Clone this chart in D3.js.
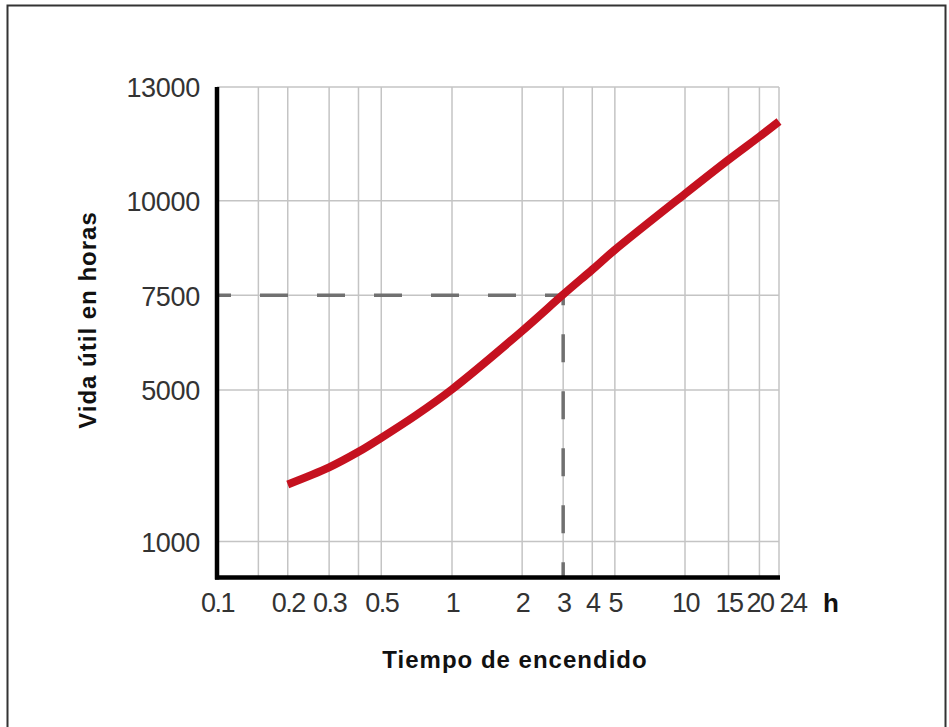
<!DOCTYPE html>
<html>
<head>
<meta charset="utf-8">
<script src="https://cdn.jsdelivr.net/npm/d3@7"></script>
<style>
  body { margin: 0; background: #fff; }
  svg { display: block; }
</style>
</head>
<body>
<div id="chart"></div>
<script>
// data
var hours = [0.2, 0.3, 0.4, 0.5, 0.7, 1, 2, 3, 4, 5, 10, 15, 20, 24];
var lifeHours = [2510, 2960, 3370, 3740, 4330, 5020, 6560, 7520, 8180, 8700, 10180, 11080, 11690, 12090];

var xTickLabels = [0.1, 0.2, 0.3, 0.5, 1, 2, 3, 4, 5, 10, 15, 20, 24];
var xGridValues = [0.15, 0.2, 0.3, 0.4, 0.5, 1, 2, 3, 4, 5, 10, 15, 20, 24];
var yTickLabels = [1000, 5000, 7500, 10000, 13000];

var markHours = 3;
var markLife = 7500;

var width = 949;
var height = 727;
var plotLeft = 217, plotRight = 779, plotTop = 87, plotBottom = 577.5;

var svg = d3.select("#chart")
  .append("svg")
  .attr("width", width)
  .attr("height", height);

// frame
svg.append("rect")
  .attr("x", 7.5)
  .attr("y", 5.5)
  .attr("width", 938)
  .attr("height", 740)
  .attr("fill", "none")
  .attr("stroke", "#333")
  .attr("stroke-width", 2);

// scales (log x, decades a bit uneven in the print)
var x = d3.scaleLog()
  .domain([0.1, 1, 10, 24])
  .range([plotLeft, 452, 685, plotRight]);

var y = d3.scaleLinear()
  .domain([0, 13000])
  .range([579.5, plotTop]);

// grid
svg.append("g")
  .selectAll("line")
  .data(xGridValues)
  .enter()
  .append("line")
  .attr("x1", d => x(d))
  .attr("x2", d => x(d))
  .attr("y1", plotTop)
  .attr("y2", plotBottom)
  .attr("stroke", "#c4c4c4")
  .attr("stroke-width", 1.5);

svg.append("g")
  .selectAll("line")
  .data(yTickLabels)
  .enter()
  .append("line")
  .attr("x1", plotLeft)
  .attr("x2", plotRight)
  .attr("y1", d => y(d))
  .attr("y2", d => y(d))
  .attr("stroke", "#c4c4c4")
  .attr("stroke-width", 1.5);

// dashed reference line
svg.append("path")
  .attr("d", "M" + x(0.1) + "," + y(markLife) +
             "H" + x(markHours) +
             "V" + plotBottom)
  .attr("fill", "none")
  .attr("stroke", "#707070")
  .attr("stroke-width", 3.5)
  .attr("stroke-dasharray", "28,29")
  .attr("stroke-dashoffset", 14);

// curve
var line = d3.line()
  .x(d => x(d[0]))
  .y(d => y(d[1]))
  .curve(d3.curveCatmullRom.alpha(0.5));

svg.append("path")
  .datum(hours.map((h, i) => [h, lifeHours[i]]))
  .attr("d", line)
  .attr("fill", "none")
  .attr("stroke", "#c5111f")
  .attr("stroke-width", 8);

// axes
var xAxis = d3.axisBottom(x)
  .tickValues(xTickLabels)
  .tickFormat(d => String(d))
  .tickSize(0)
  .tickSizeOuter(0);

var yAxis = d3.axisLeft(y)
  .tickValues(yTickLabels)
  .tickFormat(d => String(d))
  .tickSize(0)
  .tickSizeOuter(0);

var gx = svg.append("g")
  .attr("transform", "translate(0," + plotBottom + ")")
  .call(xAxis);

gx.select(".domain")
  .attr("d", "M" + (plotLeft - 2) + ",0H" + (plotRight + 1))
  .attr("stroke", "#000")
  .attr("stroke-width", 4.5);

gx.selectAll(".tick text")
  .attr("y", 0)
  .attr("dy", 34.5)
  .attr("fill", "#333")
  .style("font-family", "'Liberation Sans', Arial, sans-serif")
  .style("font-size", "27px")
  .style("letter-spacing", "-1.5px")
  .attr("text-anchor", (d, i) => i === xTickLabels.length - 1 ? "start" : "middle");

var gy = svg.append("g")
  .attr("transform", "translate(" + plotLeft + ",0)")
  .call(yAxis);

gy.select(".domain")
  .attr("d", "M0," + plotTop + "V" + (plotBottom + 2))
  .attr("stroke", "#000")
  .attr("stroke-width", 4.5);

gy.selectAll(".tick text")
  .attr("x", -17)
  .attr("dy", "0.36em")
  .attr("fill", "#333")
  .style("font-family", "'Liberation Sans', Arial, sans-serif")
  .style("font-size", "27px")
  .style("letter-spacing", "-0.3px");

// unit
svg.append("text")
  .attr("x", 823)
  .attr("y", 612)
  .text("h")
  .style("font-family", "'Liberation Sans', Arial, sans-serif")
  .style("font-size", "26px")
  .style("font-weight", "bold")
  .style("fill", "#111");

// axis titles
svg.append("text")
  .attr("x", 515)
  .attr("y", 668)
  .attr("text-anchor", "middle")
  .text("Tiempo de encendido")
  .style("font-family", "'Liberation Sans', Arial, sans-serif")
  .style("font-size", "24px")
  .style("font-weight", "bold")
  .style("letter-spacing", "1px")
  .style("fill", "#111");

svg.append("text")
  .attr("transform", "translate(96,320) rotate(-90)")
  .attr("text-anchor", "middle")
  .text("Vida útil en horas")
  .style("font-family", "'Liberation Sans', Arial, sans-serif")
  .style("font-size", "24px")
  .style("font-weight", "bold")
  .style("letter-spacing", "1px")
  .style("fill", "#111");
</script>
</body>
</html>
